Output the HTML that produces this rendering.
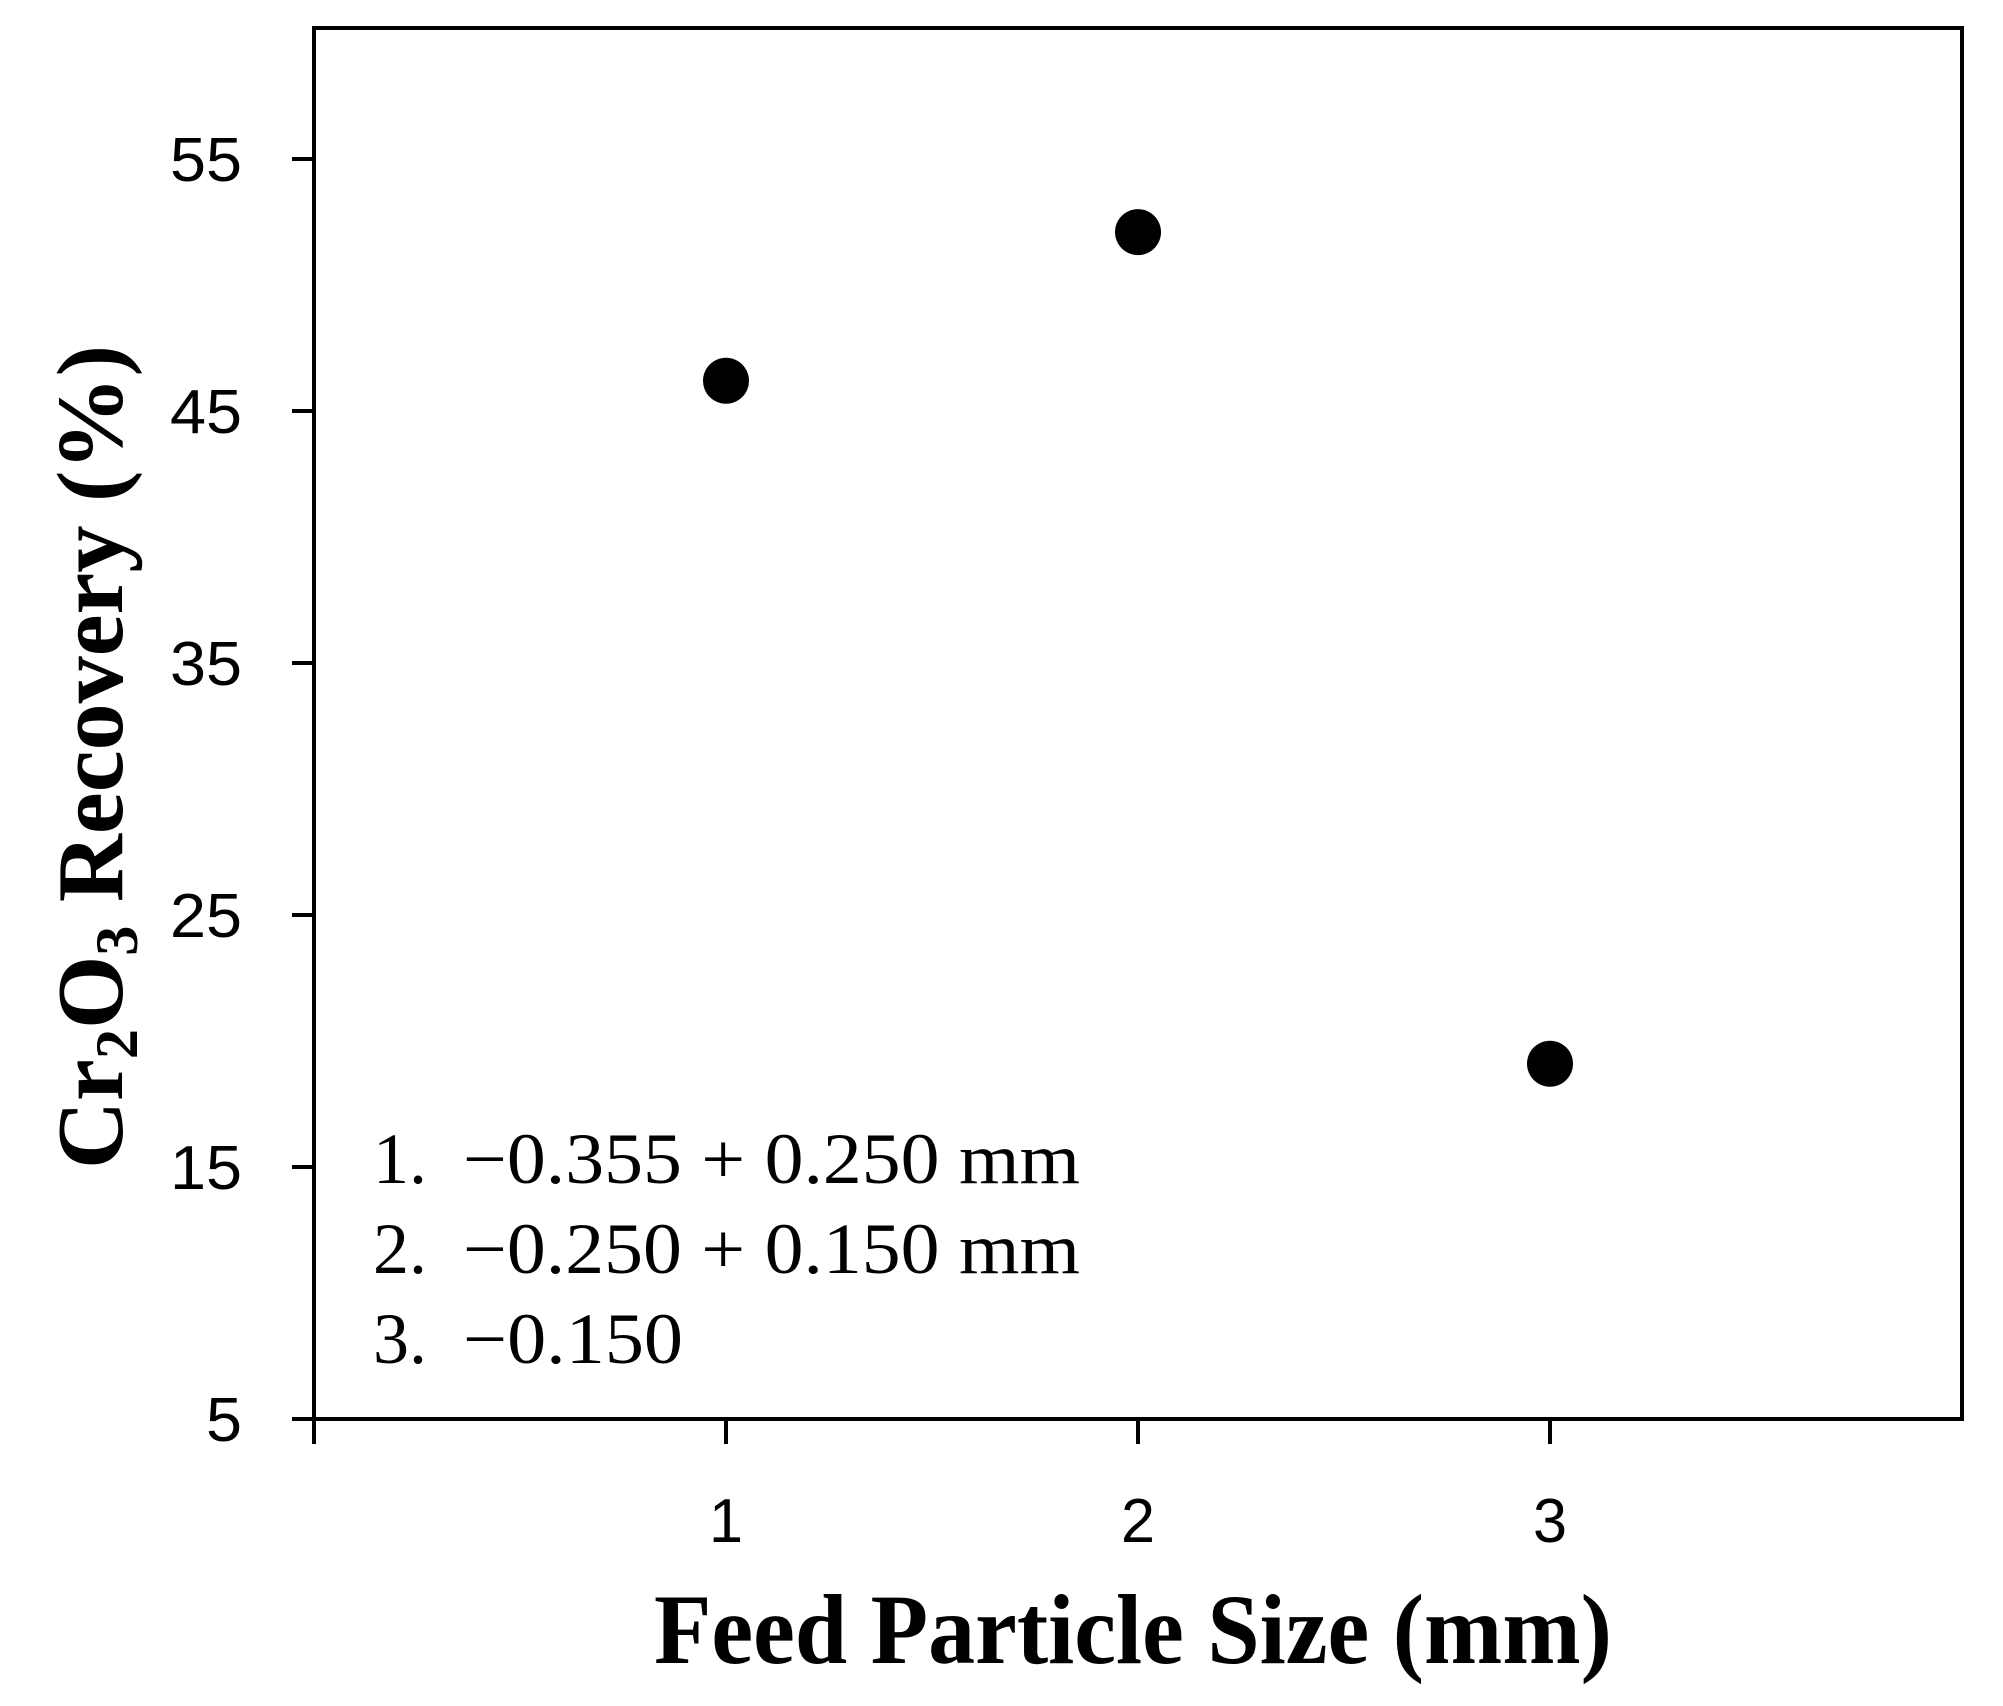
<!DOCTYPE html>
<html>
<head>
<meta charset="utf-8">
<style>
  html,body{margin:0;padding:0;background:#fff;}
  svg{display:block;}
</style>
</head>
<body>
<svg id="chart" width="2003" height="1706" viewBox="0 0 2003 1706" xmlns="http://www.w3.org/2000/svg">
  <rect x="0" y="0" width="2003" height="1706" fill="#fff"/>
  <g id="axes"></g>
  <g id="marks"></g>
  <text x="122" y="757" transform="rotate(-90 122 757)" text-anchor="middle" font-family="'Liberation Serif', serif" font-weight="bold" font-size="94" textLength="824" lengthAdjust="spacingAndGlyphs">Cr<tspan font-size="60" dy="15">2</tspan><tspan dy="-15">O</tspan><tspan font-size="60" dy="15">3</tspan><tspan dy="-15"> Recovery   (%)</tspan></text>
  <text x="1133" y="1663" text-anchor="middle" font-family="'Liberation Serif', serif" font-weight="bold" font-size="100" textLength="958" lengthAdjust="spacingAndGlyphs">Feed Particle Size (mm)</text>
  <g font-family="'Liberation Serif', serif" font-size="72" fill="#000">
    <text y="1183"><tspan x="373">1.</tspan><tspan x="463" textLength="617" lengthAdjust="spacingAndGlyphs">−0.355 + 0.250 mm</tspan></text>
    <text y="1273"><tspan x="373">2.</tspan><tspan x="463" textLength="617" lengthAdjust="spacingAndGlyphs">−0.250 + 0.150 mm</tspan></text>
    <text y="1363"><tspan x="373">3.</tspan><tspan x="463" textLength="220" lengthAdjust="spacingAndGlyphs">−0.150</tspan></text>
  </g>
</svg>
<script>
const categories = [1, 2, 3];
const recovery = [46.2, 52.1, 19.1];
const yTicks = [5, 15, 25, 35, 45, 55];
const xTicks = [1, 2, 3];

const L = 314, R = 1962, T = 28, B = 1419;
const xMin = 0, xMax = 4, yMin = 5, yMax = 60.2;
function xs(v){ return L + (v - xMin) / (xMax - xMin) * (R - L); }
function ys(v){ return B - (v - yMin) / (yMax - yMin) * (B - T); }

const NS = 'http://www.w3.org/2000/svg';
const axes = document.getElementById('axes');
const marks = document.getElementById('marks');

const frame = document.createElementNS(NS, 'rect');
frame.setAttribute('x', L); frame.setAttribute('y', T);
frame.setAttribute('width', R - L); frame.setAttribute('height', B - T);
frame.setAttribute('fill', 'none'); frame.setAttribute('stroke', '#000'); frame.setAttribute('stroke-width', '4');


axes.appendChild(frame);

yTicks.forEach(function(t){
  const y = ys(t);
  const ln = document.createElementNS(NS, 'line');
  ln.setAttribute('x1', L - 22); ln.setAttribute('x2', L);
  ln.setAttribute('y1', y); ln.setAttribute('y2', y);
  ln.setAttribute('stroke', '#000'); ln.setAttribute('stroke-width', '4');
  
  
  axes.appendChild(ln);
  const tx = document.createElementNS(NS, 'text');
  tx.setAttribute('x', 242); tx.setAttribute('y', y + 22);
  tx.setAttribute('text-anchor', 'end');
  tx.setAttribute('font-family', "'Liberation Sans', sans-serif");
  tx.setAttribute('font-size', '62');
  tx.setAttribute('textLength', String(t).length * 36);
  tx.setAttribute('lengthAdjust', 'spacingAndGlyphs');
  tx.textContent = t;
  
  
  axes.appendChild(tx);
});

xTicks.forEach(function(t){
  const x = xs(t);
  const ln = document.createElementNS(NS, 'line');
  ln.setAttribute('x1', x); ln.setAttribute('x2', x);
  ln.setAttribute('y1', B); ln.setAttribute('y2', B + 25);
  ln.setAttribute('stroke', '#000'); ln.setAttribute('stroke-width', '4');
  
  
  axes.appendChild(ln);
  const tx = document.createElementNS(NS, 'text');
  tx.setAttribute('x', x); tx.setAttribute('y', 1542);
  tx.setAttribute('text-anchor', 'middle');
  tx.setAttribute('font-family', "'Liberation Sans', sans-serif");
  tx.setAttribute('font-size', '62');
  tx.setAttribute('textLength', '34');
  tx.setAttribute('lengthAdjust', 'spacingAndGlyphs');
  tx.textContent = t;
  
  
  axes.appendChild(tx);
});
const t0 = document.createElementNS(NS, 'line');
t0.setAttribute('x1', L); t0.setAttribute('x2', L);
t0.setAttribute('y1', B); t0.setAttribute('y2', B + 25);
t0.setAttribute('stroke', '#000'); t0.setAttribute('stroke-width', '4');


axes.appendChild(t0);

categories.forEach(function(c, i){
  const dot = document.createElementNS(NS, 'circle');
  dot.setAttribute('cx', xs(c)); dot.setAttribute('cy', ys(recovery[i]));
  dot.setAttribute('r', 23); dot.setAttribute('fill', '#000');
  
  
  marks.appendChild(dot);
});
</script>
</body>
</html>
